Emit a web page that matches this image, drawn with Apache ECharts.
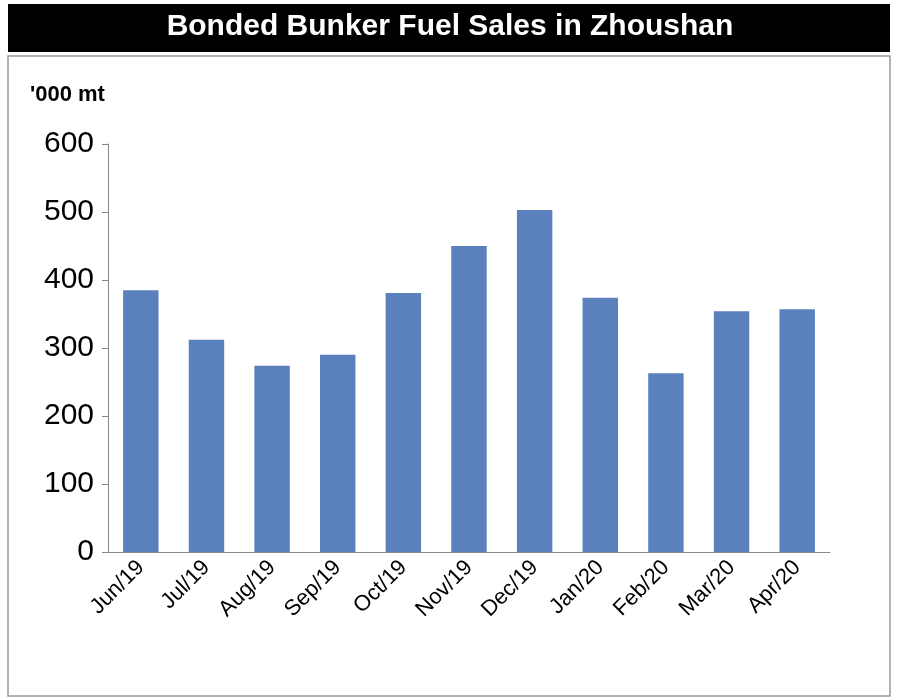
<!DOCTYPE html>
<html>
<head>
<meta charset="utf-8">
<script src="https://cdn.jsdelivr.net/npm/echarts@6/dist/echarts.min.js"></script>
<style>
  html, body { margin: 0; padding: 0; background: #fff; }
  #chart { width: 900px; height: 700px; }
</style>
</head>
<body>
<div id="chart"></div>
<script>
// monthly sales, '000 mt
const months = ['Jun/19', 'Jul/19', 'Aug/19', 'Sep/19', 'Oct/19', 'Nov/19',
  'Dec/19', 'Jan/20', 'Feb/20', 'Mar/20', 'Apr/20'];
const sales = [385, 312, 274, 290, 381, 450, 503, 374, 263, 354, 357];

const chart = echarts.init(document.getElementById('chart'));

const option = {
  animation: false,
  graphic: [
    { type: 'rect', shape: { x: 8, y: 4, width: 882, height: 48 }, style: { fill: '#000' } },
    {
      type: 'text', left: 'center', top: 12,
      style: { text: 'Bonded Bunker Fuel Sales in Zhoushan', fill: '#fff',
        font: 'bold 30px "Liberation Sans Narrow", "Liberation Sans", Arial' }
    },
    { type: 'rect', shape: { x: 8, y: 56, width: 882, height: 640 },
      style: { fill: 'none', stroke: '#9a9a9a', lineWidth: 1.5 } },
    {
      type: 'text', left: 30, top: 84,
      style: { text: "'000 mt", fill: '#000', font: 'bold 22px "Liberation Sans", Arial' }
    }
  ],
  grid: { left: 108, right: 70, top: 144, bottom: 148 },
  xAxis: {
    type: 'category',
    data: months,
    axisLine: { lineStyle: { color: '#888' } },
    axisTick: { show: false },
    axisLabel: { rotate: 45, color: '#000', fontSize: 22, margin: 12,
      fontFamily: '"Liberation Sans", Arial' }
  },
  yAxis: {
    type: 'value',
    min: 0, max: 600, interval: 100,
    splitLine: { show: false },
    axisLine: { show: true, lineStyle: { color: '#888' } },
    axisTick: { show: true, length: 6, lineStyle: { color: '#888' } },
    axisLabel: { color: '#000', fontSize: 30, margin: 14,
      fontFamily: '"Liberation Sans Narrow", "Liberation Sans", Arial' }
  },
  series: [{
    type: 'bar',
    data: sales,
    barWidth: '54%',
    itemStyle: { color: '#5b81bd' }
  }]
};

chart.setOption(option);
</script>
</body>
</html>
